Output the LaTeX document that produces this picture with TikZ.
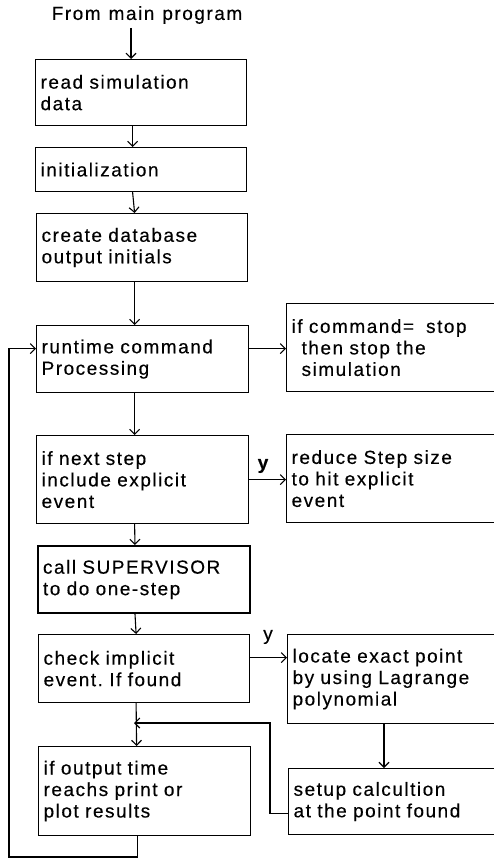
\documentclass[tikz,border=0pt]{standalone}
\usepackage{fontspec}
\setmainfont{Liberation Sans}[LetterSpace=8, FakeBold=0.3]
\usetikzlibrary{arrows.meta}
\frenchspacing
\newcommand\myws{\spaceskip=8pt plus 2pt\relax}
\newcommand\boxfont{\fontsize{19}{21.5}\selectfont\myws}
\begin{document}
\begin{tikzpicture}[x=1pt,y=-1pt,
  box/.style={draw, line width=1.2pt, anchor=north west, inner xsep=5pt, inner ysep=0pt,
    align=left, font=\boxfont},
  thickbox/.style={box, line width=2pt},
  arr/.style={line width=1.1pt, -{Straight Barb[length=5pt,width=10pt,line width=1.1pt]}},
  lbl/.style={font=\boxfont}]
\useasboundingbox (0,0) rectangle (494,859);
\fill[white] (0,0) rectangle (494,859);
\clip (0,0) rectangle (494,859);

\node[lbl] (start) at (147,15) {From main program};

\node[box, text width=201pt, minimum height=66pt] (b1) at (35,59) {read simulation\\data};
\node[box, text width=201pt, minimum height=44pt] (b2) at (35,147) {initialization};
\node[box, text width=201pt, minimum height=68pt] (b3) at (36,213) {create database\\output initials};
\node[box, text width=202pt, minimum height=67pt] (b4) at (36,325) {runtime command\\Processing};
\node[box, text width=210pt, minimum height=88pt] (r1) at (286,303) {if command=\hspace{12pt}stop\\\hspace*{10pt}then stop the\\\hspace*{10pt}simulation};
\node[box, text width=202pt, minimum height=88pt] (b5) at (36,435) {if next step\\include explicit\\event};
\node[box, text width=210pt, minimum height=88pt] (r2) at (286,434) {reduce Step size\\to hit explicit\\event};
\node[thickbox, text width=202pt, minimum height=67pt] (b6) at (37,545) {call SUPERVISOR\\to do one-step};
\node[box, text width=201pt, minimum height=68pt] (b7) at (38,634) {check implicit\\event. If found};
\node[box, text width=210pt, minimum height=89pt] (r3) at (287,634) {locate exact point\\by using Lagrange\\polynomial};
\node[box, text width=202pt, minimum height=89pt] (b8) at (38,746) {if output time\\reachs print or\\plot results};
\node[box, text width=210pt, minimum height=66pt] (r4) at (288,768) {setup calcultion\\at the point found};

\node[lbl, font=\boxfont\bfseries] (y1) at (263,466) {y};
\node[lbl] (y2) at (268,637) {y};

\coordinate (s) at (131,28);
\draw[arr] (s) -- (b1.north -| s);
\draw[arr] ([xshift=-8.5pt]b1.south) -- ([xshift=-8.5pt]b2.north);
\draw[arr] ([xshift=-8.5pt]b2.south) -- ([xshift=-7.5pt]b3.north);
\draw[arr] ([xshift=-7.5pt]b3.south) -- ([xshift=-8pt]b4.north);
\draw[arr] ([xshift=-8pt]b4.south) -- ([xshift=-8pt]b5.north);
\draw[arr] ([xshift=-8pt]b5.south) -- ([xshift=-9pt]b6.north);
\draw[arr] ([xshift=-9pt]b6.south) -- ([xshift=-8pt]b7.north);
\draw[arr] ([xshift=-8pt]b7.south) -- ([xshift=-8pt]b8.north);

\coordinate (e4) at ([yshift=10.5pt]b4.east);
\coordinate (e7) at ([yshift=11pt]b7.east);
\draw[arr] (e4) -- (r1.west |- e4);
\draw[arr] (b5.east) -- (r2.west |- b5.east);
\draw[arr] (e7) -- (r3.west |- e7);
\draw[arr] ([xshift=97pt]r3.south west) -- ([xshift=96pt]r4.north west);

\coordinate (j) at (134,723);
\draw[arr] ([yshift=-12pt]r4.west) -- ++(-18,0) |- (j);

\coordinate (w4) at ([yshift=10.5pt]b4.west);
\draw[arr] ([xshift=-7pt]b8.south) |- (9,857) |- (w4);
\end{tikzpicture}
\end{document}
